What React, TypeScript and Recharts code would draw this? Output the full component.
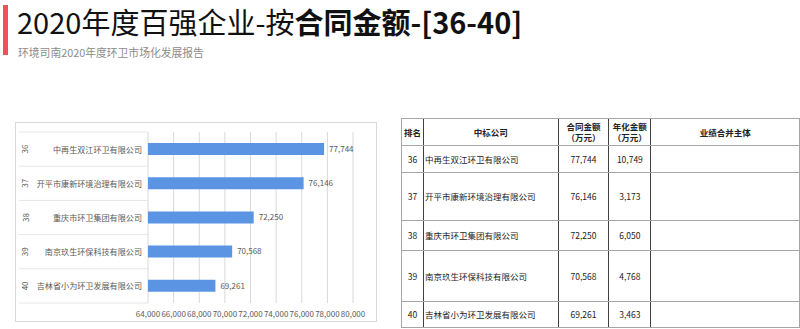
import React from "react"
import { BarChart, Bar, XAxis, YAxis, CartesianGrid, LabelList } from "recharts"

const ranks = [36, 37, 38, 39, 40]
const companies = [
  "中再生双江环卫有限公司",
  "开平市康新环境治理有限公司",
  "重庆市环卫集团有限公司",
  "南京玖生环保科技有限公司",
  "吉林省小为环卫发展有限公司",
]
const contractAmounts = [77744, 76146, 72250, 70568, 69261]
const annualAmounts = [10749, 3173, 6050, 4768, 3463]
const xTicks = [64000, 66000, 68000, 70000, 72000, 74000, 76000, 78000, 80000]

const title = "2020年度百强企业-按"
const titleBold = "合同金额-[36-40]"
const subtitle = "环境司南2020年度环卫市场化发展报告"
const tableHeaders = ["排名", "中标公司", "合同金额\n（万元）", "年化金额\n（万元）", "业绩合并主体"]

const data = companies.map((name, i) => ({ name, rank: ranks[i], value: contractAmounts[i] }))

const FONT = '"Noto Sans CJK SC", "Noto Sans", sans-serif'
const CHART_W = 362
const CHART_H = 200
const MARGIN = { top: 10, right: 24, left: 0, bottom: 0 }
const Y_W = 133
const X_H = 19
const ROW_H = (CHART_H - MARGIN.top - MARGIN.bottom - X_H) / data.length

const fmt = (v: number) => v.toLocaleString("en-US")

function CategoryTick(props: any) {
  const { y, payload, index } = props
  const rank = ranks[index]
  return (
    <g>
      <line x1={4} x2={Y_W} y1={y - ROW_H / 2} y2={y - ROW_H / 2} stroke="#e6e6e6" />
      {index === data.length - 1 && (
        <line x1={4} x2={Y_W} y1={y + ROW_H / 2} y2={y + ROW_H / 2} stroke="#e6e6e6" />
      )}
      <text
        x={Y_W - 6}
        y={y}
        textAnchor="end"
        dominantBaseline="central"
        fontSize={8.1}
        fill="#595959"
        fontFamily={FONT}
      >
        {payload.value}
      </text>
      <text
        x={10}
        y={y}
        textAnchor="middle"
        dominantBaseline="central"
        fontSize={8}
        fill="#595959"
        fontFamily={FONT}
        transform={`rotate(-90 10 ${y})`}
      >
        {rank}
      </text>
    </g>
  )
}

const widths = [21, 133, 50, 41, 149]
const heights = [27, 27, 48, 30, 51, 26]
const grayLine = "1px solid #a6a6a6"
const darkLine = "1px solid #404040"

function RankTable() {
  const cell = (ci: number): React.CSSProperties => ({
    borderLeft: ci === 0 ? grayLine : darkLine,
    borderRight: ci === widths.length - 1 ? grayLine : undefined,
    borderTop: grayLine,
    borderBottom: grayLine,
    width: widths[ci],
    padding: 0,
    fontSize: 8.5,
    color: "#222",
    textAlign: ci === 1 ? "left" : "center",
    paddingLeft: ci === 1 ? 1 : 0,
    verticalAlign: "middle",
    lineHeight: "11px",
    whiteSpace: "pre",
  })
  return (
    <table
      style={{
        position: "absolute",
        left: 401,
        top: 118,
        borderCollapse: "collapse",
        tableLayout: "fixed",
        fontFamily: FONT,
      }}
    >
      <tbody>
        <tr style={{ height: heights[0] }}>
          {tableHeaders.map((h, ci) => (
            <td key={ci} style={{ ...cell(ci), textAlign: "center", fontWeight: 700, paddingLeft: 0 }}>
              {h}
            </td>
          ))}
        </tr>
        {companies.map((c, ri) => (
          <tr key={ri} style={{ height: heights[ri + 1] }}>
            <td style={cell(0)}>{ranks[ri]}</td>
            <td style={cell(1)}>{c}</td>
            <td style={cell(2)}>{fmt(contractAmounts[ri])}</td>
            <td style={cell(3)}>{fmt(annualAmounts[ri])}</td>
            <td style={cell(4)}></td>
          </tr>
        ))}
      </tbody>
    </table>
  )
}

export default function App() {
  return (
    <div
      style={{
        position: "absolute",
        left: 0,
        top: 0,
        width: 800,
        height: 329,
        background: "#fff",
        fontFamily: FONT,
        overflow: "hidden",
      }}
    >
      <div style={{ position: "absolute", left: 3, top: 5, width: 5, height: 50, background: "#f0505a" }} />
      <div
        style={{
          position: "absolute",
          left: 17,
          top: 1,
          fontSize: 29,
          lineHeight: "40px",
          color: "#111",
          whiteSpace: "nowrap",
        }}
      >
        {title}
        <b>{titleBold}</b>
      </div>
      <div
        style={{
          position: "absolute",
          left: 18,
          top: 45,
          fontSize: 10.8,
          lineHeight: "14px",
          color: "#8c8c8c",
          whiteSpace: "nowrap",
        }}
      >
        {subtitle}
      </div>

      <div
        style={{
          position: "absolute",
          left: 15,
          top: 122,
          width: CHART_W,
          height: CHART_H,
          border: "1px solid #d9d9d9",
          boxSizing: "border-box",
        }}
      />
      <div style={{ position: "absolute", left: 15, top: 122 }}>
        <BarChart width={CHART_W} height={CHART_H} data={data} layout="vertical" margin={MARGIN}>
          <CartesianGrid horizontal={false} stroke="#d9d9d9" />
          <XAxis
            type="number"
            domain={[64000, 80000]}
            ticks={xTicks}
            interval={0}
            allowDataOverflow
            axisLine={false}
            tickLine={false}
            height={X_H}
            tickMargin={2}
            tickFormatter={fmt}
            tick={{ fontSize: 8, fill: "#595959", fontFamily: FONT }}
          />
          <YAxis
            type="category"
            dataKey="name"
            width={Y_W}
            axisLine={false}
            tickLine={false}
            interval={0}
            tick={<CategoryTick />}
          />
          <Bar dataKey="value" fill="#5b94e3" barSize={12} isAnimationActive={false}>
            <LabelList
              dataKey="value"
              position="right"
              offset={5}
              formatter={(v: any) => fmt(Number(v))}
              style={{ fontSize: 8, fill: "#595959", fontFamily: FONT }}
            />
          </Bar>
        </BarChart>
      </div>

      <RankTable />
    </div>
  )
}
